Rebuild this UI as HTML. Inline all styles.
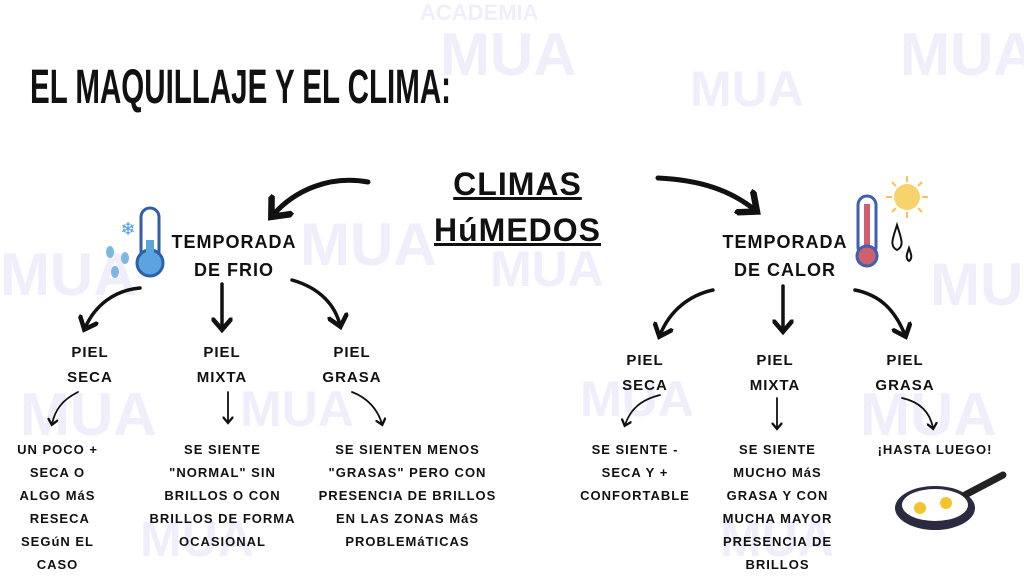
<!DOCTYPE html>
<html><head><meta charset="utf-8"><style>
body{margin:0;width:1024px;height:573px;background:#fff;position:relative;overflow:hidden;font-family:"Liberation Sans",sans-serif;}
.t{position:absolute;font-weight:bold;color:#111;text-align:center;letter-spacing:1px;}
.wm{position:absolute;color:#f0eefb;font-weight:bold;font-family:"Liberation Sans",sans-serif;}
</style></head><body>
<div class="wm" style="left:420px;top:0px;font-size:22px">ACADEMIA</div>
<div class="wm" style="left:440px;top:20px;font-size:60px">MUA</div>
<div class="wm" style="left:900px;top:20px;font-size:60px">MUA</div>
<div class="wm" style="left:690px;top:60px;font-size:50px">MUA</div>
<div class="wm" style="left:0px;top:240px;font-size:60px">MUA</div>
<div class="wm" style="left:300px;top:210px;font-size:60px">MUA</div>
<div class="wm" style="left:490px;top:240px;font-size:50px">MUA</div>
<div class="wm" style="left:20px;top:380px;font-size:60px">MUA</div>
<div class="wm" style="left:240px;top:380px;font-size:50px">MUA</div>
<div class="wm" style="left:580px;top:370px;font-size:50px">MUA</div>
<div class="wm" style="left:930px;top:250px;font-size:60px">MUA</div>
<div class="wm" style="left:860px;top:380px;font-size:60px">MUA</div>
<div class="wm" style="left:140px;top:510px;font-size:50px">MUA</div>
<div class="wm" style="left:720px;top:510px;font-size:50px">MUA</div>

<div class="t" style="left:30px;top:60px;font-size:48px;letter-spacing:0;transform:scaleX(0.615);transform-origin:left;white-space:nowrap;font-weight:900">EL MAQUILLAJE Y EL CLIMA:</div>

<div class="t" style="left:440px;top:166px;width:155px;font-size:32px;text-decoration:underline;text-decoration-thickness:3px">CLIMAS</div>
<div class="t" style="left:430px;top:212px;width:175px;font-size:32px;text-decoration:underline;text-decoration-thickness:3px">HúMEDOS</div>

<div class="t" style="left:164px;top:228px;width:140px;font-size:18px;line-height:28px">TEMPORADA<br>DE FRIO</div>
<div class="t" style="left:715px;top:228px;width:140px;font-size:18px;line-height:28px">TEMPORADA<br>DE CALOR</div>

<div class="t" style="left:50px;top:340px;width:80px;font-size:15px;line-height:25px">PIEL<br>SECA</div>
<div class="t" style="left:182px;top:340px;width:80px;font-size:15px;line-height:25px">PIEL<br>MIXTA</div>
<div class="t" style="left:312px;top:340px;width:80px;font-size:15px;line-height:25px">PIEL<br>GRASA</div>
<div class="t" style="left:605px;top:348px;width:80px;font-size:15px;line-height:25px">PIEL<br>SECA</div>
<div class="t" style="left:735px;top:348px;width:80px;font-size:15px;line-height:25px">PIEL<br>MIXTA</div>
<div class="t" style="left:865px;top:348px;width:80px;font-size:15px;line-height:25px">PIEL<br>GRASA</div>

<div class="t" style="left:0px;top:438px;width:115px;font-size:13px;line-height:23px">UN POCO +<br>SECA O<br>ALGO MáS<br>&nbsp;RESECA<br>SEGúN EL<br>CASO</div>
<div class="t" style="left:140px;top:438px;width:165px;font-size:13px;line-height:23px">SE SIENTE<br>"NORMAL" SIN<br>BRILLOS O CON<br>BRILLOS DE FORMA<br>OCASIONAL</div>
<div class="t" style="left:315px;top:438px;width:185px;font-size:13px;line-height:23px">SE SIENTEN MENOS<br>"GRASAS" PERO CON<br>PRESENCIA DE BRILLOS<br>EN LAS ZONAS MáS<br>PROBLEMáTICAS</div>
<div class="t" style="left:570px;top:438px;width:130px;font-size:13px;line-height:23px">SE SIENTE -<br>SECA Y +<br>CONFORTABLE</div>
<div class="t" style="left:715px;top:438px;width:125px;font-size:13px;line-height:23px">SE SIENTE<br>MUCHO MáS<br>GRASA Y CON<br>MUCHA MAYOR<br>PRESENCIA DE<br>BRILLOS</div>
<div class="t" style="left:870px;top:438px;width:130px;font-size:13px;line-height:23px">¡HASTA LUEGO!</div>

<svg width="1024" height="573" style="position:absolute;left:0;top:0">
<defs><marker id="a" markerWidth="6" markerHeight="6" refX="3" refY="3" orient="auto"><path d="M0,0 L3.5,3 L0,6" fill="none" stroke="#111" stroke-width="1.3"/></marker></defs>
<g fill="none" stroke="#111" stroke-linecap="round">
<path d="M368,182 C330,175 295,190 273,215" stroke-width="5" marker-end="url(#a)"/>
<path d="M658,178 C700,180 730,190 755,210" stroke-width="5" marker-end="url(#a)"/>
<path d="M140,288 C115,290 95,305 85,328" stroke-width="3.5" marker-end="url(#a)"/>
<path d="M222,284 L222,328" stroke-width="3.5" marker-end="url(#a)"/>
<path d="M292,280 C320,288 335,305 340,325" stroke-width="3.5" marker-end="url(#a)"/>
<path d="M713,290 C690,295 670,310 660,335" stroke-width="3.5" marker-end="url(#a)"/>
<path d="M783,286 L783,330" stroke-width="3.5" marker-end="url(#a)"/>
<path d="M855,290 C880,295 895,310 905,335" stroke-width="3.5" marker-end="url(#a)"/>
<path d="M78,392 C62,400 55,410 52,424" stroke-width="1.8" marker-end="url(#a)"/>
<path d="M228,392 L228,422" stroke-width="1.8" marker-end="url(#a)"/>
<path d="M352,392 C368,398 378,410 382,424" stroke-width="1.8" marker-end="url(#a)"/>
<path d="M660,395 C640,400 630,410 625,425" stroke-width="1.8" marker-end="url(#a)"/>
<path d="M777,398 L777,428" stroke-width="1.8" marker-end="url(#a)"/>
<path d="M902,398 C920,402 930,412 933,428" stroke-width="1.8" marker-end="url(#a)"/>
</g>
<rect x="141" y="208" width="18" height="58" rx="9" fill="#fff" stroke="#2e5fa8" stroke-width="3"/>
<circle cx="150" cy="263" r="13" fill="#5aa4e0" stroke="#2e5fa8" stroke-width="3"/>
<rect x="146" y="240" width="8" height="22" fill="#5aa4e0"/>
<text x="128" y="235" font-size="18" fill="#4a9ae0" text-anchor="middle">❄</text>
<g fill="#7cb8e0"><ellipse cx="110" cy="252" rx="4" ry="6"/><ellipse cx="125" cy="258" rx="4" ry="6"/><ellipse cx="115" cy="272" rx="4" ry="6"/></g>
<rect x="858" y="196" width="18" height="60" rx="9" fill="#fff" stroke="#3f5fb0" stroke-width="3"/>
<rect x="864" y="204" width="6" height="50" fill="#d0606e"/>
<circle cx="867" cy="256" r="10" fill="#d0606e" stroke="#3f5fb0" stroke-width="3"/>
<circle cx="907" cy="197" r="13" fill="#f7d36b"/>
<g stroke="#f2c55c" stroke-width="2"><path d="M907,176v6M907,212v6M886,197h6M922,197h6M892,182l4,4M918,208l4,4M892,212l4,-4M918,186l4,-4"/></g>
<path d="M897,225 C893,238 889,246 897,250 C905,246 901,238 897,225Z" fill="none" stroke="#111" stroke-width="2"/>
<path d="M909,248 C907,254 905,258 909,261 C913,258 911,254 909,248Z" fill="none" stroke="#111" stroke-width="2"/>
<ellipse cx="935" cy="508" rx="40" ry="22" fill="#2a2a40"/>
<path d="M965,495 L1003,475" stroke="#222" stroke-width="7" stroke-linecap="round"/>
<ellipse cx="935" cy="505" rx="33" ry="16" fill="#fff"/>
<circle cx="920" cy="508" r="6" fill="#f4c430"/>
<circle cx="946" cy="503" r="6" fill="#f4c430"/>
</svg>
</body></html>
